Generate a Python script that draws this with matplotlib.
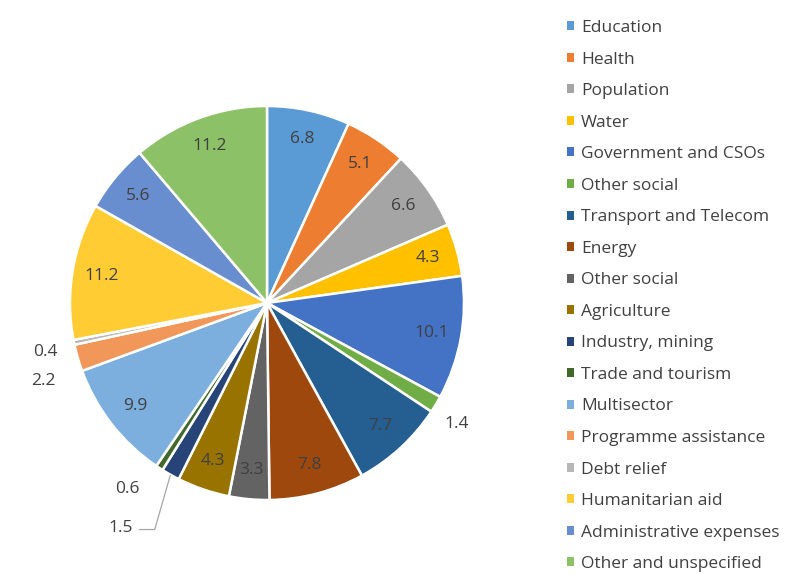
import numpy as np
import matplotlib
matplotlib.use("Agg")
import matplotlib.pyplot as plt

categories = [
    "Education", "Health", "Population", "Water", "Government and CSOs",
    "Other social", "Transport and Telecom", "Energy", "Other social",
    "Agriculture", "Industry, mining", "Trade and tourism", "Multisector",
    "Programme assistance", "Debt relief", "Humanitarian aid",
    "Administrative expenses", "Other and unspecified",
]
values = [6.8, 5.1, 6.6, 4.3, 10.1, 1.4, 7.7, 7.8, 3.3, 4.3, 1.5, 0.6,
          9.9, 2.2, 0.4, 11.2, 5.6, 11.2]
colors = [
    "#5B9BD5", "#ED7D31", "#A5A5A5", "#FFC000", "#4472C4", "#70AD47",
    "#255E91", "#9E480E", "#636363", "#997300", "#264478", "#43682B",
    "#7CAFDD", "#F1975A", "#B7B7B7", "#FFCD33", "#698ED0", "#8CC168",
]

FONT = "Open Sans"
TEXT_COLOR = "#404040"
plt.rcParams["font.family"] = [FONT, "DejaVu Sans"]

W, H = 799, 574
fig = plt.figure(figsize=(W / 100, H / 100), dpi=100)

# pie geometry in pixels
cx, cy, rad = 267, 303, 197
lim = 1.45
ax = fig.add_axes([(cx - lim * rad) / W, (H - cy - lim * rad) / H,
                   2 * lim * rad / W, 2 * lim * rad / H])

wedges, _ = ax.pie(values, colors=colors, startangle=90, counterclock=False,
                   radius=1.0,
                   wedgeprops=dict(edgecolor="white", linewidth=1.8))
ax.set_xlim(-lim, lim)
ax.set_ylim(-lim, lim)
ax.set_aspect("auto")
ax.axis("off")

# value labels: inside for large slices, outside (radius, angle shift) for thin ones
outside = {5: (1.14, -1.5), 11: (1.18, -3.7), 13: (1.20, 3.0), 14: (1.15, 1.0)}
for i, (w, v) in enumerate(zip(wedges, values)):
    mid_deg = (w.theta1 + w.theta2) / 2
    txt = f"{v:.1f}"
    if i == 10:
        # leader line for the narrow Industry slice
        mid = np.deg2rad(mid_deg)
        p0 = (np.cos(mid), np.sin(mid))
        elbow = (-0.57, -1.15)
        tail = (-0.65, -1.15)
        ax.plot([p0[0], elbow[0], tail[0]], [p0[1], elbow[1], tail[1]],
                color="#A6A6A6", lw=0.9, solid_capstyle="butt")
        ax.text(tail[0] - 0.03, tail[1] + 0.01, txt, ha="right", va="center",
                fontsize=12.5, color=TEXT_COLOR)
        continue
    r, shift = outside.get(i, (0.85, 0.0))
    ang = np.deg2rad(mid_deg + shift)
    ax.text(r * np.cos(ang), r * np.sin(ang), txt, ha="center", va="center",
            fontsize=12.5, color=TEXT_COLOR)

leg = fig.legend(wedges, categories, loc="upper left",
                 bbox_to_anchor=(567 / W, 1 - 20 / H), frameon=False,
                 fontsize=12.5, labelcolor=TEXT_COLOR, handlelength=0.42,
                 handleheight=0.42, handletextpad=0.4, labelspacing=0.895,
                 borderpad=0, borderaxespad=0)
for h in leg.legend_handles:
    h.set_edgecolor("none")

fig.savefig("out.png", dpi=100, facecolor="white")
